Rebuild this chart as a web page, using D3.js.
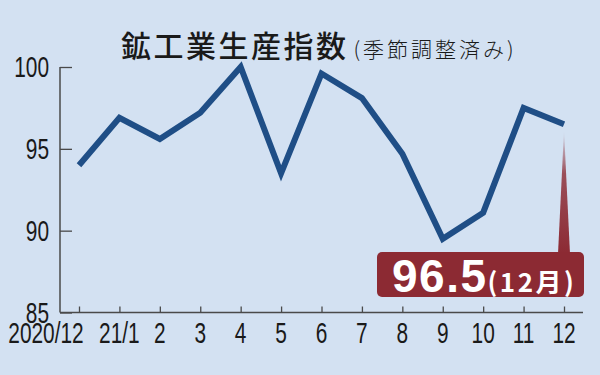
<!DOCTYPE html>
<html>
<head>
<meta charset="utf-8">
<script src="https://cdn.jsdelivr.net/npm/d3@7"></script>
<style>
  body { margin: 0; background: #d3e1f2; }
  svg { display: block; }
</style>
</head>
<body>
<div id="chart"></div>
<script>
const width = 600;
const height = 375;

// data
const months = ["2020/12", "21/1", "2", "3", "4", "5", "6", "7", "8", "9", "10", "11", "12"];
const values = [94.0, 96.9, 95.6, 97.2, 100.0, 93.5, 99.6, 98.1, 94.7, 89.5, 91.1, 97.5, 96.5];
const yTicks = [85, 90, 95, 100];
const latestLabel = "96.5";
const latestMonth = "(12月)";

const margin = { left: 60, right: 17, top: 67, bottom: 63 };

const svg = d3.select("#chart")
    .append("svg")
    .attr("width", width)
    .attr("height", height)
    .style("background", "#d3e1f2");

const x = d3.scalePoint()
    .domain(months)
    .range([79, 564]);

const y = d3.scaleLinear()
    .domain([85, 100])
    .range([height - margin.bottom + 0.5, margin.top]);

const numFont = "'Liberation Sans', Arial, sans-serif";
const squeeze = 0.72; // tick labels are a condensed face

// y axis
const yAxis = svg.append("g")
    .attr("transform", `translate(${margin.left},0)`)
    .call(d3.axisRight(y).tickValues(yTicks).tickSize(12).tickFormat(""));
yAxis.select(".domain").remove();
yAxis.selectAll("line").attr("stroke", "#4a4a4a").attr("stroke-width", 1.3);

svg.append("line")
    .attr("x1", margin.left).attr("x2", margin.left)
    .attr("y1", y(100)).attr("y2", y(85))
    .attr("stroke", "#4a4a4a").attr("stroke-width", 1.5);

svg.append("g")
    .selectAll("text")
    .data(yTicks)
    .join("text")
    .attr("transform", d => `translate(49,${y(d)}) scale(${squeeze},1)`)
    .attr("dy", "0.36em")
    .attr("text-anchor", "end")
    .attr("font-family", numFont)
    .attr("font-size", 29)
    .attr("fill", "#1a1a1a")
    .text(d => d);

// x axis
const xAxis = svg.append("g")
    .attr("transform", `translate(0,${y(85)})`)
    .call(d3.axisTop(x).tickSize(6).tickFormat(""));
xAxis.select(".domain").remove();
xAxis.selectAll("line").attr("stroke", "#4a4a4a").attr("stroke-width", 1.3);

svg.append("line")
    .attr("x1", margin.left).attr("x2", 583)
    .attr("y1", y(85)).attr("y2", y(85))
    .attr("stroke", "#4a4a4a").attr("stroke-width", 1.5);

svg.append("g")
    .selectAll("text")
    .data(months)
    .join("text")
    .attr("transform", (d, i) => `translate(${i == 0 ? 46 : x(d)},343) scale(${squeeze},1)`)
    .attr("text-anchor", "middle")
    .attr("font-family", numFont)
    .attr("font-size", 29)
    .attr("fill", "#1a1a1a")
    .text(d => d);

// pointer from the last point to the label box
const defs = svg.append("defs");
const grad = defs.append("linearGradient")
    .attr("id", "pointerGrad")
    .attr("x1", 0).attr("x2", 0).attr("y1", 0).attr("y2", 1);
grad.append("stop").attr("offset", "0%").attr("stop-color", "#8c2a33").attr("stop-opacity", 0);
grad.append("stop").attr("offset", "35%").attr("stop-color", "#8c2a33").attr("stop-opacity", 0.8);
grad.append("stop").attr("offset", "100%").attr("stop-color", "#8c2a33").attr("stop-opacity", 1);

const lastX = x(months[months.length - 1]);
const lastY = y(values[values.length - 1]);
const boxTop = 252;

svg.append("path")
    .attr("d", `M${lastX},${lastY + 6} L${lastX + 6},${boxTop + 2} L${lastX - 6},${boxTop + 2} Z`)
    .attr("fill", "url(#pointerGrad)");

// label box
svg.append("rect")
    .attr("x", 377)
    .attr("y", boxTop)
    .attr("width", 207)
    .attr("height", 45)
    .attr("rx", 5)
    .attr("fill", "#8c2a33");

const label = svg.append("text")
    .attr("x", 392)
    .attr("y", 292)
    .attr("fill", "#ffffff")
    .attr("font-family", "'Liberation Sans', Arial, sans-serif")
    .attr("font-weight", "bold");
label.append("tspan")
    .attr("font-size", 46)
    .attr("letter-spacing", 1.5)
    .text(latestLabel);
label.append("tspan")
    .attr("font-size", 26)
    .attr("letter-spacing", 2.5)
    .attr("font-family", "'Noto Sans CJK JP', sans-serif")
    .text(latestMonth);

// line
const line = d3.line()
    .x((d, i) => x(months[i]))
    .y(d => y(d));

svg.append("path")
    .datum(values)
    .attr("d", line)
    .attr("fill", "none")
    .attr("stroke", "#1f4e86")
    .attr("stroke-width", 6)
    .attr("stroke-linejoin", "miter")
    .attr("stroke-linecap", "butt");

// title
const title = svg.append("text")
    .attr("x", 121)
    .attr("y", 57)
    .attr("font-family", "'Noto Sans CJK JP', sans-serif")
    .attr("fill", "#1a1a1a");
title.append("tspan")
    .attr("font-size", 30)
    .attr("font-weight", 500)
    .attr("letter-spacing", 2.5)
    .text("鉱工業生産指数");
title.append("tspan")
    .attr("font-size", 21)
    .attr("font-weight", 300)
    .attr("letter-spacing", 3)
    .attr("dx", 5)
    .text("(季節調整済み)");
</script>
</body>
</html>
